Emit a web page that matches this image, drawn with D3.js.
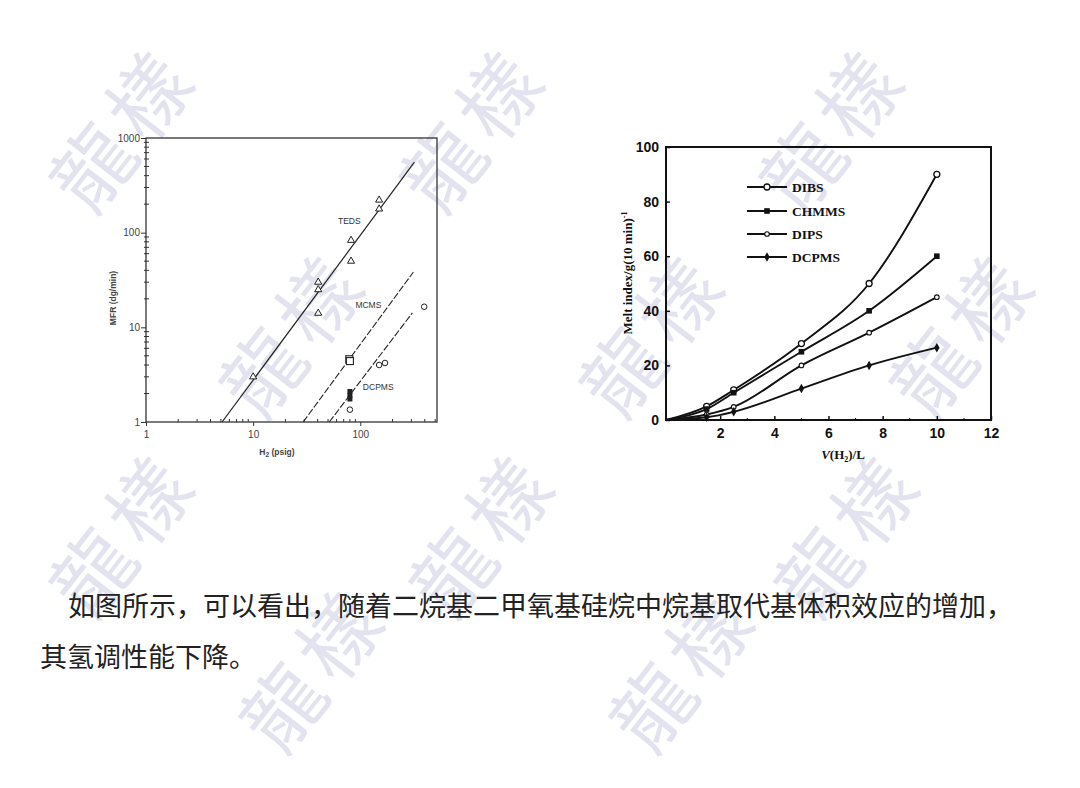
<!DOCTYPE html>
<html>
<head>
<meta charset="utf-8">
<script src="https://cdn.jsdelivr.net/npm/d3@7"></script>
<style>
  html, body { margin: 0; padding: 0; background: #fff; }
  svg { display: block; }
</style>
</head>
<body>
<div class="render"></div>
<script>
"use strict";

var width = 1080;
var height = 788;

// ---- left chart: MFR vs H2 (log-log) ----
var h2Ticks = [1, 10, 100];
var mfrTicks = [1, 10, 100, 1000];

var tedsH2 = [10, 40.5, 40.5, 40.5, 82, 82, 150, 150];
var tedsMfr = [3.0, 30, 25, 14.1, 83, 50, 221, 178];
var mcmsH2 = [79, 80];
var mcmsMfr = [4.6, 4.4];
var dcpmsSqH2 = [80, 80, 80];
var dcpmsSqMfr = [2.1, 1.9, 1.75];
var dcpmsCircH2 = [80, 150, 170, 395];
var dcpmsCircMfr = [1.35, 4.0, 4.2, 16.5];

// fitted lines, [h2, mfr] end points
var tedsFit = [[5.13, 1], [320, 556]];
var mcmsFit = [[29.3, 1], [313, 38.4]];
var dcpmsFit = [[51.4, 1], [306, 14.2]];

var fitNames = ["TEDS", "MCMS", "DCPMS"];
var fitLabelAt = [[79, 133], [119, 17.2], [147, 2.34]];

// ---- right chart: melt index vs V(H2) ----
var vH2 = [0, 1.5, 2.5, 5, 7.5, 10];
var dibs = [0, 5, 11, 28, 50, 90];
var chmms = [0, 4, 10, 25, 40, 60];
var dips = [0, 2, 4.8, 20, 32, 45];
var dcpms = [0, 1, 3, 11.5, 20, 26.5];
var seriesNames = ["DIBS", "CHMMS", "DIPS", "DCPMS"];
var vTicks = [2, 4, 6, 8, 10, 12];
var miTicks = [0, 20, 40, 60, 80, 100];

var caption1 = "如图所示，可以看出，随着二烷基二甲氧基硅烷中烷基取代基体积效应的增加，";
var caption2 = "其氢调性能下降。";

var svg = d3.select(".render").append("svg").attr("width", width).attr("height", height);
svg.append("rect").attr("width", width).attr("height", height).attr("fill", "#fff");

// watermark
var wmRows = [[125, [120, 470, 830]], [330, [290, 650, 960]], [530, [120, 480, 845]], [665, [310, 680]]];
var wm = svg.append("g").attr("fill", "#e2e3ef");
wmRows.forEach(function (r) {
   r[1].forEach(function (cx) {
      wm.append("text").attr("transform", "translate(" + cx + "," + r[0] + ") rotate(-52)")
         .attr("text-anchor", "middle").attr("dominant-baseline", "central")
         .style("font-family", "'Noto Sans CJK TC'").style("font-size", "80px")
         .attr("letter-spacing", "10px").text("龍樣");
   });
});

// ===== left chart =====
var lx = d3.scaleLog().domain([1, 520]).range([146, 437]);
var ly = d3.scaleLog().domain([1, 1000]).range([422, 138]);
var left = svg.append("g").style("font-family", "'Liberation Sans', Arial, sans-serif");
var ink = "#333";

left.append("rect").attr("x", 146).attr("y", 138).attr("width", 291).attr("height", 284)
   .attr("fill", "none").attr("stroke", ink).attr("stroke-width", 1.3);

var minorY = [];
[1, 10, 100].forEach(function (d) { for (var k = 2; k < 10; k++) minorY.push(d * k); });
var minorX = [];
[1, 10, 100].forEach(function (d) { for (var k = 2; k < 10; k++) if (d * k < 520) minorX.push(d * k); });

var yAxisL = d3.axisLeft(ly).tickValues(mfrTicks).tickSize(5).tickFormat(d3.format("d"));
var gyl = left.append("g").attr("transform", "translate(146,0)").call(yAxisL);
gyl.select(".domain").remove();
gyl.selectAll("text").style("font-size", "10px").attr("fill", "#444").attr("dx", "2px");
gyl.selectAll("line").attr("stroke", ink);
left.selectAll(".ymin").data(minorY).enter().append("line")
   .attr("x1", 144).attr("x2", 149).attr("y1", ly).attr("y2", ly).attr("stroke", ink);

var xAxisL = d3.axisBottom(lx).tickValues(h2Ticks).tickSize(4).tickFormat(d3.format("d"));
var gxl = left.append("g").attr("transform", "translate(0,422)").call(xAxisL);
gxl.select(".domain").remove();
gxl.selectAll("text").style("font-size", "10px").attr("fill", "#444").attr("dy", "0.9em");
gxl.selectAll("line").attr("stroke", ink);
left.selectAll(".xmin").data(minorX).enter().append("line")
   .attr("y1", 419).attr("y2", 422).attr("x1", lx).attr("x2", lx).attr("stroke", ink);

left.append("text").attr("transform", "translate(116,298) rotate(-90)").attr("text-anchor", "middle")
   .style("font-size", "8.5px").style("font-weight", "bold").attr("fill", "#444").text("MFR (dg/min)");
var xl = left.append("text").attr("x", 277).attr("y", 455).attr("text-anchor", "middle")
   .style("font-size", "8.5px").style("font-weight", "bold").attr("fill", "#444");
xl.append("tspan").text("H");
xl.append("tspan").attr("dy", 2).style("font-size", "6.5px").text("2");
xl.append("tspan").attr("dy", -2).text(" (psig)");

var lineL = d3.line().x(function (d) { return lx(d[0]); }).y(function (d) { return ly(d[1]); });
left.append("path").attr("d", lineL(tedsFit)).attr("stroke", "#222").attr("stroke-width", 1.2).attr("fill", "none");
left.append("path").attr("d", lineL(mcmsFit)).attr("stroke", "#222").attr("stroke-width", 1.1)
   .attr("stroke-dasharray", "7,2").attr("fill", "none");
left.append("path").attr("d", lineL(dcpmsFit)).attr("stroke", "#222").attr("stroke-width", 1.1)
   .attr("stroke-dasharray", "7,2").attr("fill", "none");

left.selectAll(".fitlab").data(fitNames).enter().append("text")
   .attr("x", function (d, i) { return lx(fitLabelAt[i][0]); })
   .attr("y", function (d, i) { return ly(fitLabelAt[i][1]); })
   .attr("text-anchor", "middle").attr("dominant-baseline", "central")
   .style("font-size", "8.5px").attr("fill", "#333").text(function (d) { return d; });

var tri = d3.symbol().type(d3.symbolTriangle).size(22);
left.selectAll(".teds").data(tedsH2).enter().append("path").attr("d", tri)
   .attr("transform", function (d, i) { return "translate(" + lx(d) + "," + ly(tedsMfr[i]) + ")"; })
   .attr("fill", "#fff").attr("stroke", "#222").attr("stroke-width", 1);
left.selectAll(".mcms").data(mcmsH2).enter().append("rect")
   .attr("x", function (d) { return lx(d) - 3.5; })
   .attr("y", function (d, i) { return ly(mcmsMfr[i]) - 3.5; })
   .attr("width", 7).attr("height", 7).attr("fill", "#fff").attr("stroke", "#222").attr("stroke-width", 1.1);
left.selectAll(".dsq").data(dcpmsSqH2).enter().append("rect")
   .attr("x", function (d) { return lx(d) - 2.5; })
   .attr("y", function (d, i) { return ly(dcpmsSqMfr[i]) - 2.5; })
   .attr("width", 5).attr("height", 5).attr("fill", "#222");
left.selectAll(".dci").data(dcpmsCircH2).enter().append("circle")
   .attr("cx", lx).attr("cy", function (d, i) { return ly(dcpmsCircMfr[i]); })
   .attr("r", 2.8).attr("fill", "#fff").attr("stroke", "#222").attr("stroke-width", 1);

// ===== right chart =====
var rx = d3.scaleLinear().domain([0, 12]).range([666, 991]);
var ry = d3.scaleLinear().domain([0, 100]).range([420, 147]);
var right = svg.append("g").style("font-family", "'Liberation Serif', 'Times New Roman', serif");

right.append("rect").attr("x", 666).attr("y", 147).attr("width", 325).attr("height", 273)
   .attr("fill", "none").attr("stroke", "#111").attr("stroke-width", 2);

var gyr = right.append("g").attr("transform", "translate(666,0)")
   .call(d3.axisLeft(ry).tickValues(miTicks).tickSize(-4).tickPadding(7));
gyr.select(".domain").remove();
gyr.selectAll("line").attr("stroke", "#111").attr("stroke-width", 1.5);
gyr.selectAll("text").style("font-size", "14px").style("font-weight", "bold").attr("fill", "#111");

var gxr = right.append("g").attr("transform", "translate(0,420)")
   .call(d3.axisBottom(rx).tickValues(vTicks).tickSize(-4).tickPadding(8));
gxr.select(".domain").remove();
gxr.selectAll("line").attr("stroke", "#111").attr("stroke-width", 1.5);
gxr.selectAll("text").style("font-size", "14px").style("font-weight", "bold").attr("fill", "#111");
right.selectAll(".xmr").data([1, 3, 5, 7, 9, 11]).enter().append("line")
   .attr("x1", rx).attr("x2", rx).attr("y1", 420).attr("y2", 418).attr("stroke", "#111");

var yt = right.append("text").attr("transform", "translate(632,273) rotate(-90)").attr("text-anchor", "middle")
   .style("font-size", "13px").style("font-weight", "bold").attr("fill", "#111");
yt.append("tspan").text("Melt index/g(10 min)");
yt.append("tspan").attr("dy", -5).style("font-size", "8px").text("-1");

var xt = right.append("text").attr("x", 843).attr("y", 459).attr("text-anchor", "middle")
   .style("font-size", "13px").style("font-weight", "bold").attr("fill", "#111");
xt.append("tspan").style("font-style", "italic").text("V");
xt.append("tspan").text("(H");
xt.append("tspan").attr("dy", 3).style("font-size", "8px").text("2");
xt.append("tspan").attr("dy", -3).text(")/L");

var allSeries = [dibs, chmms, dips, dcpms];
var lineR = d3.line().x(function (d, i) { return rx(vH2[i]); }).y(function (d) { return ry(d); })
   .curve(d3.curveMonotoneX);
right.selectAll(".ser").data(allSeries).enter().append("path").attr("d", lineR)
   .attr("fill", "none").attr("stroke", "#111").attr("stroke-width", 1.9);

function drawMarker(g, k, x, y) {
   if (k === 0) {
      g.append("circle").attr("cx", x).attr("cy", y).attr("r", 3).attr("fill", "#fff").attr("stroke", "#111").attr("stroke-width", 1.3);
   } else if (k === 1) {
      g.append("rect").attr("x", x - 2.8).attr("y", y - 2.8).attr("width", 5.6).attr("height", 5.6).attr("fill", "#111");
   } else if (k === 2) {
      g.append("circle").attr("cx", x).attr("cy", y).attr("r", 2.3).attr("fill", "#fff").attr("stroke", "#111").attr("stroke-width", 1.1);
   } else {
      g.append("path").attr("d", d3.symbol().type(d3.symbolDiamond).size(26)())
         .attr("transform", "translate(" + x + "," + y + ")").attr("fill", "#111");
   }
}
allSeries.forEach(function (s, k) {
   s.forEach(function (v, i) {
      if (i > 0) drawMarker(right, k, rx(vH2[i]), ry(v));
   });
});

// legend
var legY = [187, 211, 234, 257];
seriesNames.forEach(function (name, k) {
   right.append("line").attr("x1", 747).attr("x2", 787).attr("y1", legY[k]).attr("y2", legY[k])
      .attr("stroke", "#111").attr("stroke-width", 1.9);
   drawMarker(right, k, 767, legY[k]);
   right.append("text").attr("x", 792).attr("y", legY[k]).attr("dominant-baseline", "central")
      .style("font-size", "13.5px").style("font-weight", "bold").attr("fill", "#111").text(name);
});

// ===== caption =====
var cap = svg.append("g").style("font-family", "'Noto Sans CJK SC', sans-serif").attr("fill", "#222");
cap.append("text").attr("x", 68).attr("y", 616).style("font-size", "27px").text(caption1);
cap.append("text").attr("x", 40).attr("y", 667).style("font-size", "27px").text(caption2);
</script>
</body>
</html>
